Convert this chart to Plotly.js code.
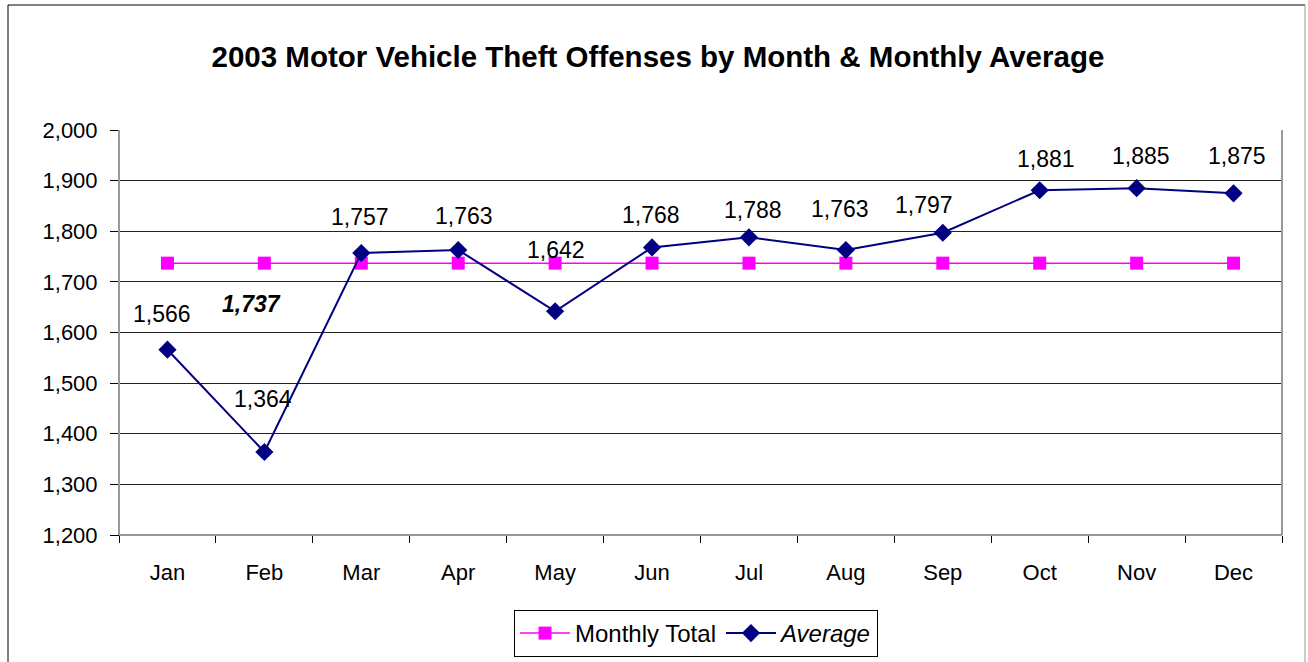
<!DOCTYPE html>
<html>
<head>
<meta charset="utf-8">
<script src="https://cdn.plot.ly/plotly-3.0.1.min.js"></script>
<style>
html,body{margin:0;padding:0;background:#fff;}
#chart{width:1308px;height:662px;}
</style>
</head>
<body>
<div id="chart"></div>
<script>
// ---- data ----
const months = ["Jan","Feb","Mar","Apr","May","Jun","Jul","Aug","Sep","Oct","Nov","Dec"];
const monthlyCounts = [1566,1364,1757,1763,1642,1768,1788,1763,1797,1881,1885,1875];
const averageValue = 1737;
const averageLine = months.map(() => averageValue);
const seriesNames = ["Monthly Total", "Average"];
const yTicks = [1200,1300,1400,1500,1600,1700,1800,1900,2000];

// ---- label placement (pixel offsets, not data) ----
const labelDx = [-5, -1, -1, 6, 1, -1, 4, -6, -19, 6, 4, 3];
const labelDy = [-36, -53, -36, -34, -61, -32, -27, -41, -28, -31, -32, -37];

const FONT = "Liberation Sans, Arial, sans-serif";

const traces = [
  {
    x: months, y: averageLine, type: "scatter", mode: "lines+markers",
    name: seriesNames[0],
    line: {color: "#FF00FF", width: 1.5},
    marker: {symbol: "square", size: 13, color: "#FF00FF"},
    hoverinfo: "skip"
  },
  {
    x: months, y: monthlyCounts, type: "scatter", mode: "lines+markers",
    name: "<i>" + seriesNames[1] + "</i>",
    line: {color: "#000080", width: 2},
    marker: {symbol: "diamond", size: 14, color: "#000080"},
    hoverinfo: "skip"
  }
];

const annotations = monthlyCounts.map((v, i) => ({
  x: months[i], y: v, xref: "x", yref: "y",
  text: v.toLocaleString("en-US"),
  showarrow: false, xanchor: "center", yanchor: "middle",
  xshift: labelDx[i], yshift: -labelDy[i],
  font: {family: FONT, size: 23, color: "#000"}
}));
annotations.push({
  x: months[1], y: averageValue, xref: "x", yref: "y",
  text: "<b><i>" + averageValue.toLocaleString("en-US") + "</i></b>",
  showarrow: false, xanchor: "center", yanchor: "middle",
  xshift: -13, yshift: -41,
  font: {family: FONT, size: 23, color: "#000"}
});

const L = 119, R = 1282, T = 130, B = 535, W = 1308, H = 662;
const px = v => (v - L) / (R - L);
const py = v => (B - v) / (B - T);

const shapes = [
  {type: "line", xref: "paper", yref: "paper", x0: px(8), x1: px(8), y0: py(5), y1: py(670), line: {color: "#000", width: 1}, layer: "below"},
  {type: "line", xref: "paper", yref: "paper", x0: px(8), x1: px(1305), y0: py(5), y1: py(5), line: {color: "#000", width: 1}, layer: "below"},
  {type: "line", xref: "paper", yref: "paper", x0: px(1305), x1: px(1305), y0: py(5), y1: py(670), line: {color: "#999", width: 1}, layer: "below"},
  {type: "line", xref: "paper", yref: "paper", x0: 0, x1: 1, y0: 0, y1: 0, line: {color: "#999", width: 2}, layer: "above"},
  {type: "line", xref: "paper", yref: "paper", x0: 1, x1: 1, y0: 0, y1: 1, line: {color: "#999", width: 2}, layer: "above"},
  {type: "line", xref: "paper", yref: "paper", x0: 0, x1: 0, y0: 0, y1: 1, line: {color: "#999", width: 2}, layer: "above"}
];

const layout = {
  width: W, height: H,
  margin: {l: L, r: W - R, t: T, b: H - B},
  paper_bgcolor: "#fff", plot_bgcolor: "#fff",
  font: {family: FONT, color: "#000", size: 22},
  title: {
    text: "<b>2003 Motor Vehicle Theft Offenses by Month & Monthly Average</b>",
    font: {family: FONT, size: 29.5, color: "#000"},
    xref: "container", yref: "container", x: 0.503, y: 1 - 57/662,
    xanchor: "center", yanchor: "middle"
  },
  xaxis: {
    type: "category", range: [-0.5, 11.5],
    tickson: "boundaries", ticks: "outside", ticklen: 7, tickcolor: "#000", tickwidth: 1,
    showgrid: false, showline: true, linecolor: "#000", linewidth: 1,
    ticklabelstandoff: 18, automargin: false,
    tickfont: {family: FONT, size: 22, color: "#000"},
    fixedrange: true
  },
  yaxis: {
    range: [1200, 2000], tickvals: yTicks, tickformat: ",d",
    ticks: "outside", ticklen: 8, tickcolor: "#000", tickwidth: 1,
    showgrid: true, gridcolor: "#222", gridwidth: 1,
    showline: true, linecolor: "#000", linewidth: 1,
    zeroline: false, automargin: false,
    ticklabelstandoff: 8,
    tickfont: {family: FONT, size: 22, color: "#000"},
    fixedrange: true
  },
  showlegend: true,
  legend: {
    orientation: "h", xref: "container", x: 696 / W, xanchor: "center",
    yref: "container", y: 1 - 610 / H, yanchor: "top",
    bordercolor: "#000", borderwidth: 1, bgcolor: "#fff",
    font: {family: FONT, size: 24, color: "#000"},
    itemwidth: 50, tracegroupgap: 0
  },
  annotations: annotations,
  shapes: shapes
};

Plotly.newPlot("chart", traces, layout, {displayModeBar: false, staticPlot: true});
</script>
</body>
</html>
